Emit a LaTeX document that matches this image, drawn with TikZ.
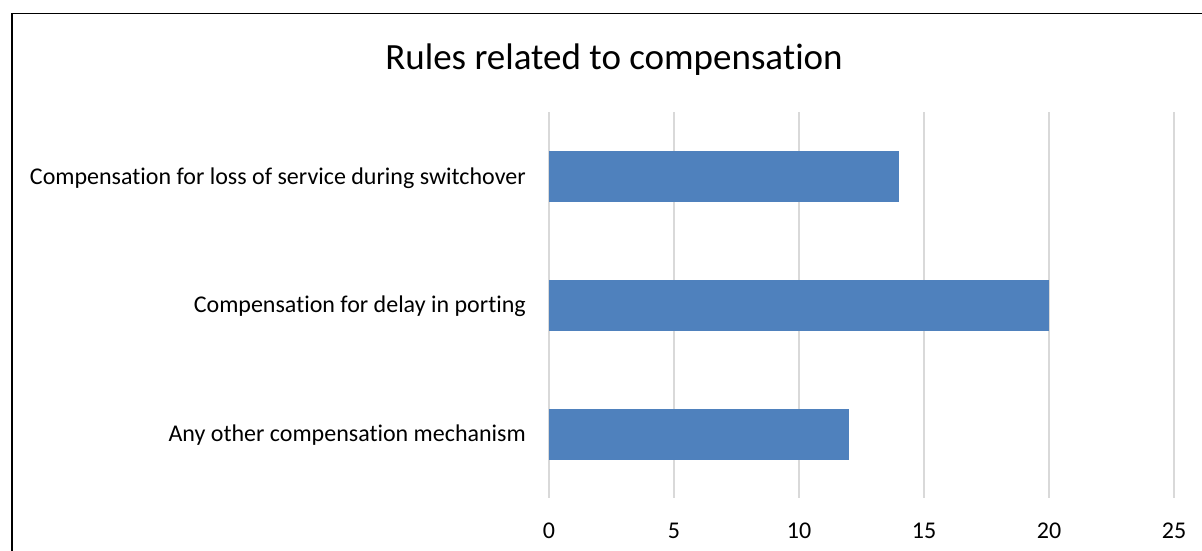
\documentclass[tikz,border=0pt]{standalone}
\usepackage{fontspec}
\setmainfont{Carlito}[Ligatures=NoCommon]
\definecolor{barblue}{HTML}{4F81BD}
\definecolor{gridgray}{HTML}{D9D9D9}
\begin{document}
\begin{tikzpicture}[x=1pt,y=-1pt,
  gridline/.style={draw=gridgray,line width=1.5pt},
  bar/.style={fill=barblue},
  catlabel/.style={anchor=east,font=\fontsize{24}{28}\selectfont,inner sep=0pt},
  ticklabel/.style={anchor=center,font=\fontsize{24}{28}\selectfont,inner sep=0pt},
  frame/.style={draw=black,line width=1.6pt}]
\useasboundingbox (0,0) rectangle (1202,551);
\fill[white] (0,0) rectangle (1202,551);
\draw[frame] (12,551) -- (12,13.5) -- (1202,13.5);
\node[font=\fontsize{37}{42}\selectfont,inner sep=0pt] (title) at (614,60) {Rules related to compensation};
\foreach \v in {0,5,10,15,20,25}{
  \draw[gridline] ({549+25*\v},112) -- ({549+25*\v},498);
  \node[ticklabel] (t\v) at ({549+25*\v},531) {\v};
}
\fill[bar] (549,151) rectangle (899,202);
\fill[bar] (549,280) rectangle (1049,331);
\fill[bar] (549,409) rectangle (849,460);
\node[catlabel] (c1) at (526,178) {Compensation for loss of service during switchover};
\node[catlabel] (c2) at (526,306) {Compensation for delay in porting};
\node[catlabel] (c3) at (526,435) {Any other compensation mechanism};
\end{tikzpicture}
\end{document}
